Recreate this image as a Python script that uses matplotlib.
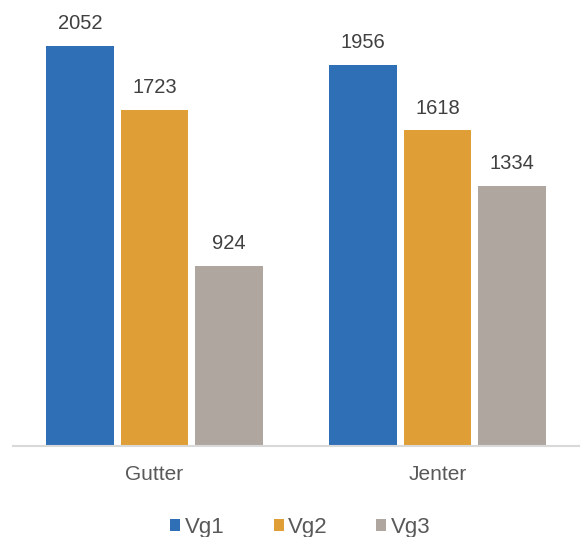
import numpy as np
import matplotlib
matplotlib.use("Agg")
import matplotlib.pyplot as plt

categories = ["Gutter", "Jenter"]
series = ["Vg1", "Vg2", "Vg3"]
vg1 = [2052, 1956]
vg2 = [1723, 1618]
vg3 = [924, 1334]
colors = ["#2E6FB5", "#E09F36", "#AFA79F"]

plt.rcParams["font.family"] = ["Liberation Sans", "DejaVu Sans"]

fig = plt.figure(figsize=(5.81, 5.37), dpi=100)
ax = fig.add_axes([13 / 581, (537 - 446) / 537, 566 / 581, 446 / 537])

x = np.arange(len(categories))
pitch = 0.263
handles = []
for i, (name, vals) in enumerate(zip(series, [vg1, vg2, vg3])):
    bars = ax.bar(x + (i - 1) * pitch, vals, width=0.24, color=colors[i],
                  label=name, zorder=2)
    handles.append(bars)
    for b, v in zip(bars, vals):
        ax.text(b.get_x() + b.get_width() / 2, v + 65, str(v), ha="center",
                va="bottom", fontsize=14.5, color="#404040")

ax.set_xlim(-0.5, 1.5)
ax.set_ylim(0, 2287)
ax.set_yticks([])
ax.set_xticks(x)
ax.set_xticklabels(categories, fontsize=15, color="#595959")
ax.tick_params(axis="x", length=0, pad=14)
for s in ["top", "right", "left"]:
    ax.spines[s].set_visible(False)
ax.spines["bottom"].set_color("#D9D9D9")
ax.spines["bottom"].set_linewidth(1.5)

fig.legend(handles=handles, labels=series, loc="center",
           bbox_to_anchor=(300.5 / 581, 1 - 527 / 537),
           ncol=3, frameon=False, fontsize=16, handlelength=0.45, handleheight=0.45,
           handletextpad=0.2, columnspacing=2.2, labelcolor="#595959")

fig.savefig("out.png", dpi=100)
